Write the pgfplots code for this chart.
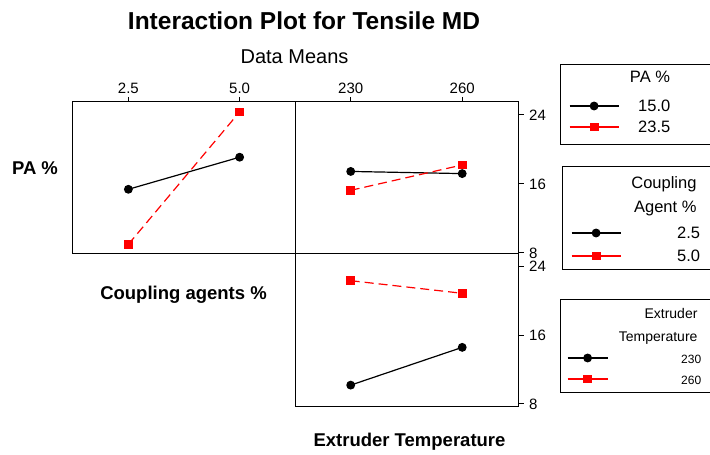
\documentclass[border=0pt]{standalone}
\usepackage{fontspec}
\setmainfont{Liberation Sans}
\usepackage{pgfplots}
\pgfplotsset{compat=1.18}
\begin{document}
\begin{tikzpicture}[x=1pt,y=1pt]
\useasboundingbox (0,0) rectangle (710,455);
\pgfplotsset{
  panel/.style={scale only axis, axis line style={line width=1pt}, major tick length=5pt,
    tick align=outside, tick style={line width=1pt, black},
    tick label style={font=\fontsize{15}{15}\selectfont},
    yticklabel style={xshift=2pt},
    /pgf/number format/assume math mode=true, clip=false},
  bser/.style={black, line width=1.2pt, mark=*, mark size=3.8pt, mark options={solid}},
  rser/.style={red, line width=1.2pt, dash pattern=on 9pt off 5pt, mark=square*, mark size=3.8pt, mark options={solid}},
  leg/.style={scale only axis, width=710pt, height=455pt, xmin=0, xmax=710, ymin=0, ymax=455, hide axis},
}
% top-left: PA% traces vs coupling agent
\begin{axis}[panel, at={(72.3pt,201pt)}, anchor=south west, width=223.4pt, height=152pt,
  xmin=1.24, xmax=6.26, ymin=7.88, ymax=25.5,
  xtick={2.5,5}, xticklabels={2.5,5.0}, xtick pos=right, xticklabel pos=right, ytick=\empty]
\addplot[bser] coordinates {(2.5,15.38) (5,19.1)};
\addplot[rser] coordinates {(2.5,9.0) (5,24.35)};
\end{axis}
% top-right: PA% traces vs extruder temperature
\begin{axis}[panel, at={(295.7pt,201pt)}, anchor=south west, width=223pt, height=152pt,
  xmin=215.2, xmax=275.2, ymin=7.88, ymax=25.5,
  xtick={230,260}, xtick pos=right, xticklabel pos=right,
  ytick={8,16,24}, ytick pos=right, yticklabel pos=right]
\addplot[bser] coordinates {(230,17.45) (260,17.2)};
\addplot[rser] coordinates {(230,15.26) (260,18.2)};
\end{axis}
% bottom-right: coupling agent traces vs extruder temperature
\begin{axis}[panel, at={(295.7pt,48pt)}, anchor=south west, width=223pt, height=153pt,
  xmin=215.2, xmax=275.2, ymin=7.65, ymax=25.48,
  xtick=\empty, ytick={8,16,24}, ytick pos=right, yticklabel pos=right]
\addplot[bser] coordinates {(230,10.2) (260,14.6)};
\addplot[rser] coordinates {(230,22.37) (260,20.9)};
\end{axis}
% legend boxes
\draw[line width=0.8pt] (560,391) rectangle (720,311);
\draw[line width=0.8pt] (562,289) rectangle (720,186);
\draw[line width=0.8pt] (560,156) rectangle (720,63);
% legend 1: PA %
\node[font=\fontsize{16.5}{16.5}\selectfont] at (650,378) {PA \%};
\begin{axis}[leg, at={(0pt,0pt)}, anchor=south west,
  legend image code/.code={\draw[mark repeat=2,mark phase=2,#1,solid] plot coordinates {(0pt,0pt) (24.5pt,0pt) (49pt,0pt)};},
  legend cell align=left,
  legend style={draw=none, fill=none, inner sep=0pt, outer sep=0pt, at={(569/710,356/455)}, anchor=north west,
    font=\fontsize{16.5}{16.5}\selectfont, nodes={inner sep=0pt, text height=13pt, text depth=1pt},
    row sep=7pt, column sep=19pt}]
\addlegendimage{bser}\addlegendentry{15.0}
\addlegendimage{rser}\addlegendentry{23.5}
\end{axis}
% legend 2: Coupling Agent %
\node[font=\fontsize{16.5}{16.5}\selectfont, anchor=east] at (700,271) {Coupling};
\node[font=\fontsize{16.5}{16.5}\selectfont, anchor=east] at (700,247) {Agent \%};
\begin{axis}[leg, at={(0pt,0pt)}, anchor=south west,
  legend image code/.code={\draw[mark repeat=2,mark phase=2,#1,solid] plot coordinates {(0pt,0pt) (24.5pt,0pt) (49pt,0pt)};},
  legend cell align=right,
  legend style={draw=none, fill=none, inner sep=0pt, outer sep=0pt, at={(571/710,229/455)}, anchor=north west,
    font=\fontsize{16.5}{16.5}\selectfont, nodes={inner sep=0pt, text height=13pt, text depth=1pt},
    row sep=9pt, column sep=56pt}]
\addlegendimage{bser}\addlegendentry{2.5}
\addlegendimage{rser}\addlegendentry{5.0}
\end{axis}
% legend 3: Extruder Temperature
\node[font=\fontsize{14}{14}\selectfont, anchor=east] at (701,142) {Extruder};
\node[font=\fontsize{14}{14}\selectfont, anchor=east] at (701,117) {Temperature};
\begin{axis}[leg, at={(0pt,0pt)}, anchor=south west,
  legend image code/.code={\draw[mark repeat=2,mark phase=2,#1,solid] plot coordinates {(0pt,0pt) (20pt,0pt) (40pt,0pt)};},
  legend cell align=right,
  legend style={draw=none, fill=none, inner sep=0pt, outer sep=0pt, at={(567/710,103/455)}, anchor=north west,
    font=\fontsize{12}{12}\selectfont, nodes={inner sep=0pt, text height=11pt, text depth=1pt},
    row sep=9pt, column sep=73pt}]
\addlegendimage{bser}\addlegendentry{230}
\addlegendimage{rser}\addlegendentry{260}
\end{axis}
% titles and labels
\node[font=\fontsize{24.5}{24.5}\selectfont\bfseries] at (304,434) {Interaction Plot for Tensile MD};
\node[font=\fontsize{20}{20}\selectfont] at (294.5,398) {Data Means};
\node[font=\fontsize{18.5}{18.5}\selectfont\bfseries] at (35,287) {PA \%};
\node[font=\fontsize{18.5}{18.5}\selectfont\bfseries] at (183.5,160) {Coupling agents \%};
\node[font=\fontsize{18.5}{18.5}\selectfont\bfseries] at (409.5,13) {Extruder Temperature};
\end{tikzpicture}
\end{document}
